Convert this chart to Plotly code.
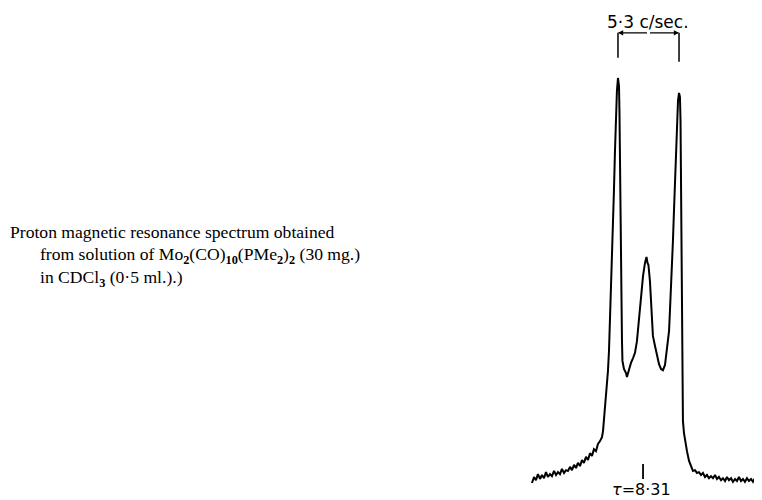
import plotly.graph_objects as go

# Spectrum trace: frequency offset (c/sec, relative to tau=8.31) and relative intensity
freq = [-10.09, -9.91, -9.74, -9.57, -9.39, -9.22, -9.04, -8.87, -8.70, -8.52,
        -8.35, -8.17, -8.00, -7.83, -7.65, -7.48, -7.30, -7.13, -6.96, -6.78,
        -6.61, -6.43, -6.26, -6.09, -5.91, -5.74, -5.57, -5.39, -5.22, -5.04,
        -4.87, -4.70, -4.52, -4.35, -4.17, -4.00, -3.91, -3.83, -3.74, -3.65,
        -3.57, -3.48, -3.39, -3.30, -3.22, -3.13, -3.04, -2.96, -2.87, -2.78,
        -2.70, -2.61, -2.52, -2.48, -2.43, -2.39, -2.35, -2.30, -2.26, -2.22,
        -2.09, -1.91, -1.83, -1.65, -1.48, -1.30, -1.13, -0.96, -0.78, -0.61,
        -0.43, -0.26, -0.13, -0.04, 0.04, 0.17, 0.26, 0.35, 0.43, 0.61,
        0.78, 0.96, 1.13, 1.30, 1.48, 1.65, 1.83, 1.91, 2.00, 2.09,
        2.17, 2.26, 2.35, 2.43, 2.52, 2.61, 2.70, 2.78, 2.83, 2.87,
        2.91, 2.96, 3.00, 3.04, 3.04, 3.13, 3.22, 3.39, 3.57, 3.74,
        3.91, 4.09, 4.26, 4.43, 4.61, 4.78, 4.96, 5.13, 5.30, 5.48,
        5.65, 5.83, 6.00, 6.17, 6.35, 6.52, 6.70, 6.87, 7.04, 7.22,
        7.39, 7.57, 7.74, 7.91, 8.09, 8.26, 8.43, 8.61, 8.78, 8.96,
        9.13, 9.30, 9.48, 9.74]
intensity = [-0.5, 1.0, 0.2, 1.7, 0.5, 1.5, 0.7, 2.2, 1.0, 1.7,
             1.2, 2.5, 1.5, 2.2, 1.7, 3.0, 2.0, 2.7, 2.5, 3.5,
             2.7, 4.0, 3.2, 4.5, 3.7, 5.2, 4.5, 6.0, 5.2, 6.9,
             6.2, 7.9, 7.4, 9.2, 9.9, 10.9, 12.4, 14.9, 18.6, 21.1,
             23.6, 27.3, 32.3, 39.7, 47.1, 54.6, 62.0, 72.0, 81.9, 90.6,
             96.8, 100.0, 98.0, 91.8, 81.9, 69.5, 57.1, 44.7, 34.7, 29.8,
             27.8, 26.8, 25.8, 27.8, 29.3, 30.5, 31.8, 34.7, 40.2, 45.9,
             50.9, 54.1, 55.6, 54.1, 53.6, 49.6, 44.7, 40.2, 36.0, 33.5,
             31.0, 29.0, 27.8, 27.5, 28.8, 32.3, 37.2, 42.2, 47.1, 53.3,
             59.6, 67.0, 74.4, 81.9, 89.3, 94.3, 96.3, 95.3, 89.3, 76.9,
             64.5, 49.6, 34.7, 19.9, 14.9, 11.9, 9.9, 7.4, 5.0, 3.5,
             2.5, 2.7, 2.0, 2.2, 1.5, 2.0, 1.0, 1.5, 0.7, 1.2,
             0.7, 1.5, 0.5, 1.0, 0.2, 0.7, 0.0, 1.0, 0.2, 0.7,
             -0.2, 0.5, 0.0, 1.0, 0.0, 0.5, -0.2, 0.7, 0.0, 0.5,
             -0.2, 0.7, 0.2, 1.0]

# Peak positions for the splitting bracket (c/sec)
peak_left = -2.61
peak_right = 2.70
splitting_label = "5·3 c/sec."
tau_pos = -0.43
tau_label = "<i>τ</i>=8·31"

caption_lines = [
    "Proton magnetic resonance spectrum obtained",
    "from solution of Mo<sub><b>2</b></sub>(CO)<sub><b>10</b></sub>(PMe<sub><b>2</b></sub>)<sub><b>2</b></sub> (30 mg.)",
    "in CDCl<sub><b>3</b></sub> (0·5 ml.).)",
]

fig = go.Figure()
fig.add_trace(go.Scatter(x=freq, y=intensity, mode="lines",
                         line=dict(color="black", width=2), hoverinfo="skip"))

# bracket
bracket_y = 111.2
fig.add_shape(type="line", x0=peak_left, x1=peak_left, y0=105.0, y1=bracket_y,
              line=dict(color="black", width=1.5))
fig.add_shape(type="line", x0=peak_right, x1=peak_right, y0=104.0, y1=bracket_y,
              line=dict(color="black", width=1.5))
mid = (peak_left + peak_right) / 2
for end in (peak_left, peak_right):
    fig.add_annotation(x=end, y=bracket_y, ax=mid, ay=bracket_y, axref="x", ayref="y",
                       xref="x", yref="y", showarrow=True, arrowhead=2, arrowsize=0.8,
                       arrowwidth=1.3, arrowcolor="black", text="")
fig.add_annotation(x=mid - 0.05, y=113.9, xref="x", yref="y", text=splitting_label,
                   showarrow=False, font=dict(family="DejaVu Sans", size=17, color="black"))

# tau marker
fig.add_shape(type="line", x0=tau_pos, x1=tau_pos, y0=0.5, y1=4.2,
              line=dict(color="black", width=1.8))
fig.add_annotation(x=tau_pos - 0.1, y=-2.2, xref="x", yref="y", text=tau_label,
                   showarrow=False, font=dict(family="DejaVu Sans", size=16, color="black"))

# caption
cap_pos = [(0, 224), (30, 247), (30, 270)]
for txt, (px, py) in zip(caption_lines, cap_pos):
    fig.add_annotation(x=px / 762, y=1 - py / 500, xref="paper", yref="paper",
                       xanchor="left", yanchor="middle", text=txt, showarrow=False,
                       font=dict(family="Liberation Serif", size=17.6, color="black"))

fig.update_layout(
    width=762, height=500, margin=dict(l=0, r=0, t=0, b=0),
    paper_bgcolor="white", plot_bgcolor="white", showlegend=False,
    xaxis=dict(range=[-55.65, 10.61], visible=False),
    yaxis=dict(range=[-6.70, 117.36], visible=False),
)
fig.write_html("out.html")
